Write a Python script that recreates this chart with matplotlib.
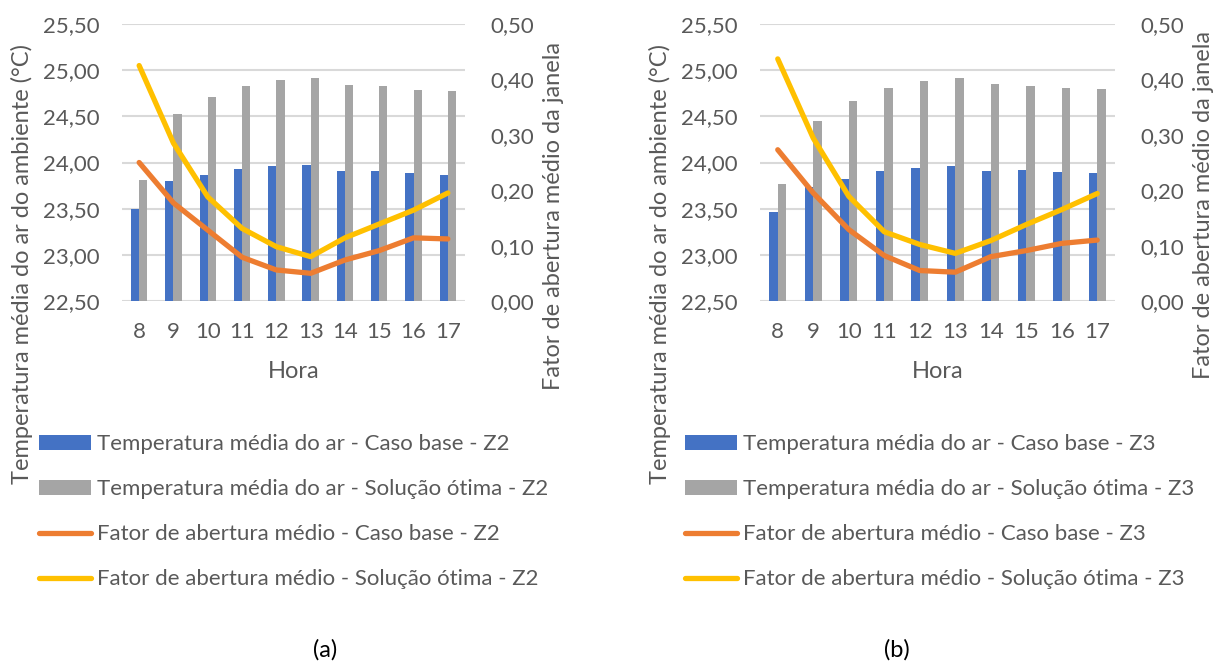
import matplotlib
matplotlib.use("Agg")
import matplotlib.pyplot as plt
import numpy as np
from matplotlib.patches import Patch
from matplotlib.lines import Line2D
from matplotlib.ticker import FuncFormatter

hours = ["8", "9", "10", "11", "12", "13", "14", "15", "16", "17"]

temp_base_z2 = [23.50, 23.80, 23.87, 23.93, 23.96, 23.97, 23.91, 23.91, 23.89, 23.87]
temp_opt_z2 = [23.81, 24.53, 24.71, 24.83, 24.89, 24.92, 24.84, 24.83, 24.79, 24.77]
fator_base_z2 = [0.250, 0.177, 0.128, 0.079, 0.056, 0.050, 0.074, 0.091, 0.114, 0.112]
fator_opt_z2 = [0.425, 0.285, 0.188, 0.131, 0.098, 0.080, 0.114, 0.139, 0.164, 0.195]

temp_base_z3 = [23.46, 23.74, 23.82, 23.91, 23.94, 23.96, 23.91, 23.92, 23.90, 23.89]
temp_opt_z3 = [23.77, 24.45, 24.67, 24.81, 24.88, 24.91, 24.85, 24.83, 24.81, 24.80]
fator_base_z3 = [0.273, 0.195, 0.129, 0.082, 0.055, 0.052, 0.080, 0.091, 0.104, 0.110]
fator_opt_z3 = [0.437, 0.294, 0.189, 0.125, 0.102, 0.086, 0.109, 0.138, 0.165, 0.194]

BLUE = "#4472C4"
GRAY = "#A5A5A5"
ORANGE = "#ED7D31"
YELLOW = "#FFC000"
TXT = "#595959"
GRID = "#D9D9D9"

FONT = "Lato"
FS = 16
FS_TITLE = 17

plt.rcParams["font.family"] = [FONT, "DejaVu Sans"]
plt.rcParams["text.color"] = TXT

W, H = 1215, 663
fig = plt.figure(figsize=(W / 100, H / 100), dpi=100)


def fx(px):
    return px / W


def fy(py):
    return 1 - py / H


def comma2(v, pos):
    return f"{v:.2f}".replace(".", ",")


def panel(x0, x1, tb, to, fb, fo, zone, leg_x, ylab_l_x, ylab_r_x, ylab_l_y, ylab_r_y, tag_x, tag):
    y_top, y_bot = 24, 301
    ax = fig.add_axes([fx(x0), fy(y_bot), fx(x1 - x0), (y_bot - y_top) / H])
    x = np.arange(len(hours))
    bw = 0.24
    ax.bar(x - bw / 2, tb, width=bw, color=BLUE, zorder=2)
    ax.bar(x + bw / 2, to, width=bw, color=GRAY, zorder=2)
    ax.set_ylim(22.5, 25.5)
    ax.set_yticks(np.arange(22.5, 25.51, 0.5))
    ax.yaxis.set_major_formatter(FuncFormatter(comma2))
    ax.set_xlim(-0.5, len(hours) - 0.5)
    ax.set_xticks(x)
    ax.set_xticklabels(hours)
    ax.grid(axis="y", color=GRID, linewidth=1.5, zorder=0)
    ax.set_axisbelow(True)
    for s in ax.spines.values():
        s.set_visible(False)
    ax.tick_params(axis="both", length=0, labelsize=FS, labelcolor=TXT)
    ax.tick_params(axis="y", pad=16)
    ax.tick_params(axis="x", pad=15)

    ax2 = ax.twinx()
    ax2.plot(x, fb, color=ORANGE, linewidth=3.8, solid_capstyle="round", solid_joinstyle="round")
    ax2.plot(x, fo, color=YELLOW, linewidth=3.8, solid_capstyle="round", solid_joinstyle="round")
    ax2.set_ylim(0, 0.5)
    ax2.set_yticks(np.arange(0, 0.51, 0.1))
    ax2.yaxis.set_major_formatter(FuncFormatter(comma2))
    for s in ax2.spines.values():
        s.set_visible(False)
    ax2.tick_params(axis="y", length=0, labelsize=FS, labelcolor=TXT, pad=18)

    fig.text(fx((x0 + x1) / 2), fy(372), "Hora", ha="center", va="center", fontsize=FS_TITLE, color=TXT)
    fig.text(fx(ylab_l_x), fy(ylab_l_y), "Temperatura média do ar do ambiente (°C)", rotation=90,
             ha="center", va="center", fontsize=FS_TITLE, color=TXT)
    fig.text(fx(ylab_r_x), fy(ylab_r_y), "Fator de abertura médio da janela", rotation=90,
             ha="center", va="center", fontsize=FS_TITLE, color=TXT)

    handles = [
        Patch(facecolor=BLUE, edgecolor="none"),
        Patch(facecolor=GRAY, edgecolor="none"),
        Line2D([], [], color=ORANGE, linewidth=3.8, solid_capstyle="round"),
        Line2D([], [], color=YELLOW, linewidth=3.8, solid_capstyle="round"),
    ]
    labels = [
        f"Temperatura média do ar - Caso base - {zone}",
        f"Temperatura média do ar - Solução ótima - {zone}",
        f"Fator de abertura médio - Caso base - {zone}",
        f"Fator de abertura médio - Solução ótima - {zone}",
    ]
    fig.legend(handles, labels, loc="upper left", bbox_to_anchor=(fx(leg_x), fy(434)),
               frameon=False, fontsize=FS, labelcolor=TXT, borderpad=0, borderaxespad=0,
               handlelength=2.35, handleheight=0.65, handletextpad=0.27, labelspacing=1.13)
    fig.text(fx(tag_x), fy(650), tag, ha="center", va="center", fontsize=FS_TITLE, color="#000000")


panel(122, 465, temp_base_z2, temp_opt_z2, fator_base_z2, fator_opt_z2, "Z2",
      39, 22, 553, 264, 216, 325, "(a)")
panel(760, 1115, temp_base_z3, temp_opt_z3, fator_base_z3, fator_opt_z3, "Z3",
      685, 660, 1203, 264, 205, 897, "(b)")

fig.savefig("out.png", dpi=100)
